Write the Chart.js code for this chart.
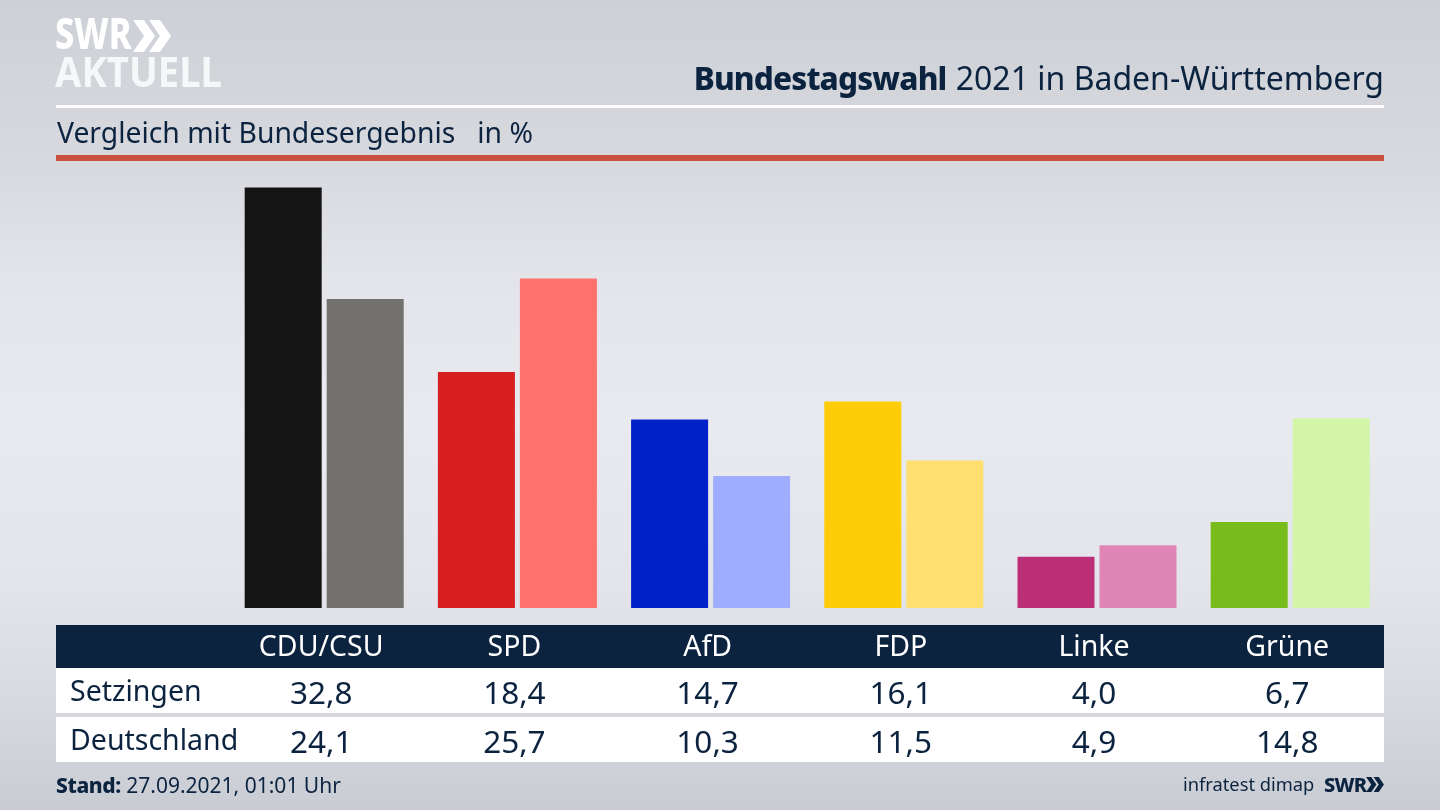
<!DOCTYPE html>
<html lang="de">
<head>
<meta charset="utf-8">
<title>Bundestagswahl 2021 in Baden-Württemberg</title>
<script src="https://cdn.jsdelivr.net/npm/chart.js@4/dist/chart.umd.min.js"></script>
<style>
    html, body { margin: 0; padding: 0; }
    body {
        width: 1440px; height: 810px; overflow: hidden; position: relative;
        font-family: "Noto Sans", sans-serif; color: #0c2340;
        background: linear-gradient(180deg, #cdd0d6 0, #d7d9de 20%, #e3e5ea 35%, #e8eaef 52%, #e3e5ea 72%, #d8dae0 86%, #c9ccd3 100%);
    }
    #chart { position: absolute; left: 0; top: 0; }
    .t { position: absolute; white-space: nowrap; line-height: 1; }
    .rule { position: absolute; left: 56px; width: 1328px; }
    .band { position: absolute; left: 56px; width: 1328px; }
    .cell { position: absolute; transform: translateX(-50%); white-space: nowrap; line-height: 1; }
    .squeeze { transform-origin: left top; }
</style>
</head>
<body>
<canvas id="chart" width="1440" height="810"></canvas>

<div class="t squeeze" style="left:55px;top:11px;font-size:43px;font-weight:800;color:#fff;transform:scaleX(.8)">SWR</div>
<svg style="position:absolute;left:133px;top:20px" width="38" height="32" viewBox="0 0 38 32">
    <path d="M0 0h11l11 16-11 16H0l11-16zM16 0h11l11 16-11 16H16l11-16z" fill="#fff"/>
</svg>
<div class="t squeeze" style="left:55px;top:50px;font-size:42px;font-weight:700;color:#f6f7f8;transform:scaleX(.91)">AKTUELL</div>

<div class="t" id="title" style="right:56px;top:62px;font-size:32px"><b style="font-weight:800;font-size:31.5px;letter-spacing:-.85px;margin-right:1px">Bundestagswahl</b> 2021 in Baden-Württemberg</div>
<div class="rule" style="top:105px;height:3px;background:#fff"></div>
<div class="t" style="left:57px;top:118px;font-size:28.3px;white-space:pre">Vergleich mit Bundesergebnis   in %</div>
<div class="rule" style="top:155px;height:6px;background:#c8503f"></div>

<div class="band" style="top:625px;height:43px;background:#0c2340"></div>
<div class="band" style="top:668px;height:45px;background:#fff"></div>
<div class="band" style="top:717px;height:45px;background:#fff"></div>
<div id="table"></div>

<div class="t" style="left:56px;top:775px;font-size:21px"><b style="font-weight:800;letter-spacing:-.4px">Stand:</b> 27.09.2021, 01:01 Uhr</div>
<div class="t" style="left:1183px;top:775px;font-size:18.3px">infratest dimap</div>
<div class="t" style="left:1324px;top:775px;font-size:20px;font-weight:800;letter-spacing:-.8px">SWR</div>
<svg style="position:absolute;left:1366px;top:777px" width="18" height="15" viewBox="0 0 38 32">
    <path d="M0 0h11l11 16-11 16H0l11-16zM16 0h11l11 16-11 16H16l11-16z" fill="#0c2340"/>
</svg>

<script>
const parties = ['CDU/CSU', 'SPD', 'AfD', 'FDP', 'Linke', 'Grüne'];
const setzingen = [32.8, 18.4, 14.7, 16.1, 4.0, 6.7];
const deutschland = [24.1, 25.7, 10.3, 11.5, 4.9, 14.8];
const coloursSetzingen = ['#141414', '#d81f1f', '#0020c8', '#ffcc0a', '#bb2e78', '#78bc1c'];
const coloursDeutschland = ['#72716e', '#ff726c', '#9fadff', '#ffdf70', '#e086b6', '#d2f5a7'];

const chart = new Chart(document.getElementById('chart'), {
    type: 'bar',
    data: {
        labels: parties,
        datasets: [
            {label: 'Setzingen', data: setzingen, backgroundColor: coloursSetzingen},
            {label: 'Deutschland', data: deutschland, backgroundColor: coloursDeutschland},
        ]
    },
    options: {
        responsive: false,
        animation: false,
        devicePixelRatio: 1,
        categoryPercentage: 0.849,
        barPercentage: 0.939,
        layout: {padding: {left: 227.6, right: 53.2, top: 184.9, bottom: 202}},
        plugins: {legend: {display: false}, tooltip: {enabled: false}},
        scales: {
            x: {display: false},
            y: {display: false, min: 0, max: 33}
        }
    }
});

// table under the bars, columns sit 3px left of the bar groups
function addCell(text, x, top, size, colour) {
    const cell = document.createElement('div');
    cell.className = 'cell';
    cell.textContent = text;
    cell.style.left = x + 'px';
    cell.style.top = top + 'px';
    cell.style.fontSize = size + 'px';
    if (colour) cell.style.color = colour;
    document.getElementById('table').appendChild(cell);
}

function addRowLabel(text, top) {
    const label = document.createElement('div');
    label.className = 't';
    label.textContent = text;
    label.style.left = '70px';
    label.style.top = top + 'px';
    label.style.fontSize = '28.5px';
    document.getElementById('table').appendChild(label);
}

const formatValue = v => v.toFixed(1).replace('.', ',');

addRowLabel('Setzingen', 676);
addRowLabel('Deutschland', 725);
parties.forEach((party, i) => {
    const x = chart.scales.x.getPixelForValue(i) - 3;
    addCell(party, x, 631, 28.5, '#fff');
    addCell(formatValue(setzingen[i]), x, 676, 31.5);
    addCell(formatValue(deutschland[i]), x, 725, 31.5);
});
</script>
</body>
</html>
